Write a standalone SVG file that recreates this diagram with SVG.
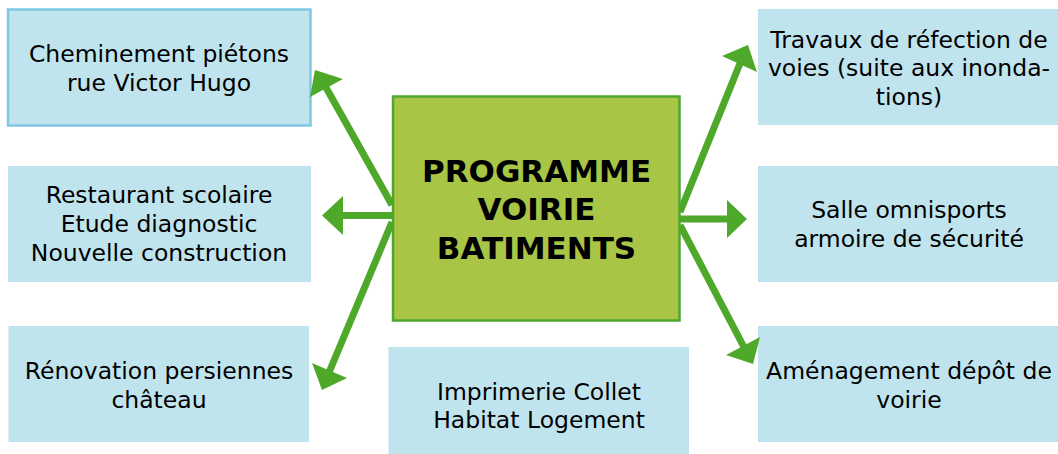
<svg xmlns="http://www.w3.org/2000/svg" width="1058" height="454" viewBox="0 0 1058 454">
<style>
.box{fill:#c0e4ee}
.t{font-family:"DejaVu Sans",Verdana,sans-serif;font-size:23.5px;fill:#000;text-anchor:middle}
.b{font-family:"DejaVu Sans",Verdana,sans-serif;font-size:31px;font-weight:bold;fill:#000;text-anchor:middle}
.ln{stroke:#4ea82a;stroke-width:7;fill:none}
.hd{fill:#4ea82a}
</style>
<rect width="1058" height="454" fill="#fff"/>
<g id="n1"><rect class="box" x="8" y="9.5" width="302.5" height="116" stroke="#7fc7e2" stroke-width="2.5"/>
<text class="t" x="159" y="62">Cheminement piétons</text><text class="t" x="159" y="91">rue Victor Hugo</text></g>
<g id="n2"><rect class="box" x="8" y="166" width="303" height="116"/>
<text class="t" x="159" y="203">Restaurant scolaire</text><text class="t" x="159" y="232">Etude diagnostic</text><text class="t" x="159" y="261">Nouvelle construction</text></g>
<g id="n3"><rect class="box" x="8.5" y="326" width="300.5" height="116"/>
<text class="t" x="159" y="379">Rénovation persiennes</text><text class="t" x="159" y="408">château</text></g>
<g id="n4"><rect class="box" x="388.5" y="347" width="300.5" height="107"/>
<text class="t" x="539" y="400">Imprimerie Collet</text><text class="t" x="539" y="428">Habitat Logement</text></g>
<g id="n5"><rect class="box" x="758" y="9" width="300" height="116"/>
<text class="t" x="909" y="47.5">Travaux de réfection de</text><text class="t" x="909" y="76">voies (suite aux inonda-</text><text class="t" x="909" y="104.5">tions)</text></g>
<g id="n6"><rect class="box" x="758" y="166" width="300" height="116"/>
<text class="t" x="909" y="218">Salle omnisports</text><text class="t" x="909" y="247">armoire de sécurité</text></g>
<g id="n7"><rect class="box" x="758" y="326" width="300" height="116"/>
<text class="t" x="909" y="379">Aménagement dépôt de</text><text class="t" x="909" y="408">voirie</text></g>
<g id="connectors">
<line class="ln" x1="392" y1="205" x2="323.5" y2="83"/><polygon class="hd" points="315,70 343,79 310,97"/>
<line class="ln" x1="392" y1="215.5" x2="336" y2="215.5"/><polygon class="hd" points="322,215.5 343,196 343,235"/>
<line class="ln" x1="392" y1="222" x2="327.5" y2="376"/><polygon class="hd" points="322,390 312,363 347,378"/>
<line class="ln" x1="680" y1="212" x2="742" y2="58.5"/><polygon class="hd" points="748,45 722,56 757,72"/>
<line class="ln" x1="680" y1="219" x2="733" y2="219"/><polygon class="hd" points="747,219 727,200 727,238"/>
<line class="ln" x1="680" y1="225" x2="746" y2="351"/><polygon class="hd" points="753,364 726,355 760,337"/>
</g>
<g id="center"><rect x="393" y="96.5" width="286.5" height="224" fill="#a8c545" stroke="#4ea72e" stroke-width="2.5"/>
<text class="b" x="536.5" y="181.5">PROGRAMME</text><text class="b" x="536.5" y="220">VOIRIE</text><text class="b" x="536.5" y="258.5">BATIMENTS</text></g>
</svg>
